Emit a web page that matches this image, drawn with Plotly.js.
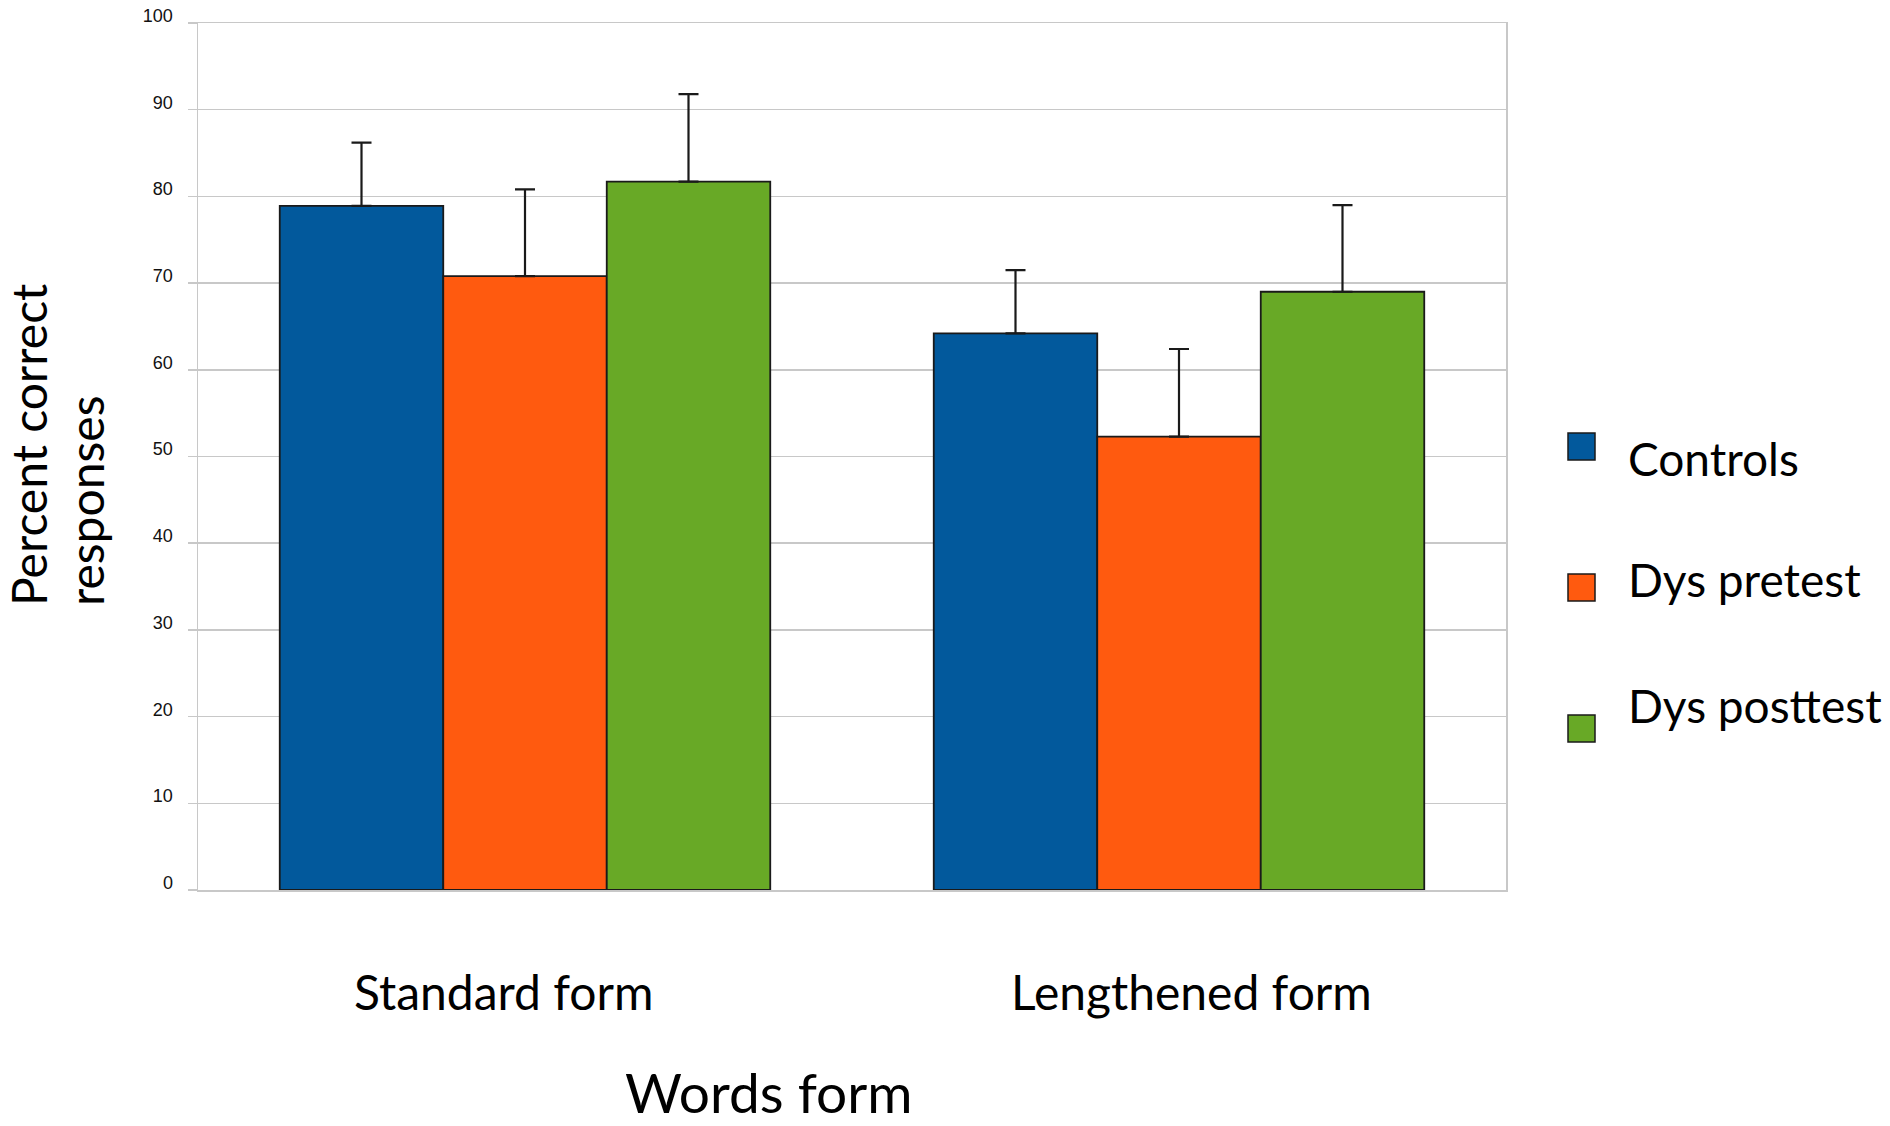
<!DOCTYPE html>
<html>
<head>
<meta charset="utf-8">
<script src="https://cdn.plot.ly/plotly-3.0.1.min.js"></script>
<style>
  html, body { margin: 0; padding: 0; background: #ffffff; }
  #chart { width: 1890px; height: 1126px; }
</style>
</head>
<body>
<div id="chart"></div>
<script>
// ---- data ----
const categories = ["Standard form", "Lengthened form"];
const seriesNames = ["Controls", "Dys pretest", "Dys posttest"];
const controls = [78.9, 64.2];
const dysPretest = [70.8, 52.3];
const dysPosttest = [81.7, 69.0];
const controlsErr = [7.3, 7.3];
const dysPretestErr = [10.0, 10.1];
const dysPosttestErr = [10.1, 10.0];
const yTickVals = [0, 10, 20, 30, 40, 50, 60, 70, 80, 90, 100];
const yTitleLines = ["Percent correct", "responses"];
const xTitle = "Words form";

// ---- styling ----
const colors = ["#02599C", "#FF5A0F", "#68A926"];
const W = 1890, H = 1126;
const plotL = 198, plotR = 1506, plotT = 23, plotB = 890;
const pw = plotR - plotL, ph = plotB - plotT;
const px2x = p => (p - plotL) / pw;
const px2y = p => (plotB - p) / ph;
const textFont = "Lato, 'Open Sans', sans-serif";

const values = [controls, dysPretest, dysPosttest];
const errs = [controlsErr, dysPretestErr, dysPosttestErr];

const traces = seriesNames.map((name, i) => ({
  type: "bar",
  name: name,
  x: categories,
  y: values[i],
  marker: { color: colors[i], line: { color: "#1a1a1a", width: 1.8 } },
  error_y: {
    type: "data",
    symmetric: false,
    array: errs[i],
    arrayminus: errs[i].map(() => 0),
    color: "#1a1a1a",
    thickness: 2.2,
    width: 10
  },
  showlegend: false,
  hoverinfo: "x+y+name"
}));

// manual legend (large squares)
const legendSquaresY = [433, 574, 715];
const legendTextY = [458, 580, 705];
const shapes = seriesNames.map((n, i) => ({
  type: "rect", xref: "paper", yref: "paper",
  x0: px2x(1568), x1: px2x(1595),
  y0: px2y(legendSquaresY[i] + 27), y1: px2y(legendSquaresY[i]),
  fillcolor: colors[i], line: { color: "#1a1a1a", width: 1.5 }
}));

const annotations = seriesNames.map((n, i) => ({
  text: n, xref: "paper", yref: "paper",
  x: px2x(1626), y: px2y(legendTextY[i]),
  xanchor: "left", yanchor: "middle", showarrow: false,
  font: { family: textFont, size: 46, color: "#000000" }
}));

// category labels (slightly off-centre as in the original)
const catShift = [-22, 12];
categories.forEach((c, i) => {
  annotations.push({
    text: c, xref: "x", yref: "paper",
    x: c, y: px2y(991), xshift: catShift[i],
    xanchor: "center", yanchor: "middle", showarrow: false,
    font: { family: textFont, size: 48, color: "#000000" }
  });
});

// y-axis title, two rotated lines, start-aligned at the bottom
const yTitleX = [28, 85];
const yTitleBottom = [608, 608];
yTitleLines.forEach((line, i) => {
  annotations.push({
    text: line, xref: "paper", yref: "paper",
    x: px2x(yTitleX[i]), y: px2y(yTitleBottom[i]),
    xanchor: "center", yanchor: "bottom",
    textangle: -90, showarrow: false,
    font: { family: textFont, size: 48, color: "#000000" }
  });
});

annotations.push({
  text: xTitle, xref: "paper", yref: "paper",
  x: px2x(768), y: px2y(1092), xanchor: "center", yanchor: "middle",
  showarrow: false,
  font: { family: textFont, size: 55, color: "#000000" }
});

const layout = {
  width: W, height: H,
  margin: { l: plotL, r: W - plotR, t: plotT, b: H - plotB, pad: 0 },
  paper_bgcolor: "#ffffff",
  plot_bgcolor: "#ffffff",
  barmode: "group",
  bargap: 0.25,
  bargroupgap: 0,
  showlegend: false,
  xaxis: {
    type: "category",
    showline: true, linecolor: "#c8c8c8", linewidth: 1.5, mirror: true,
    ticks: "", showgrid: false, zeroline: false,
    showticklabels: false
  },
  yaxis: {
    range: [0, 100],
    tickvals: yTickVals,
    showline: true, linecolor: "#c8c8c8", linewidth: 1.5, mirror: true,
    showgrid: true, gridcolor: "#c8c8c8", gridwidth: 1.5,
    zeroline: false,
    ticks: "outside", ticklen: 9, tickcolor: "#c8c8c8", tickwidth: 1.5,
    ticklabelposition: "outside top",
    ticklabeloverflow: "allow",
    ticklabelstandoff: 20,
    ticklabelshift: 6,
    tickfont: { family: "'Liberation Sans', Arial, sans-serif", size: 18, color: "#111111" }
  },
  shapes: shapes,
  annotations: annotations
};

Plotly.newPlot("chart", traces, layout, { displayModeBar: false, staticPlot: true });
</script>
</body>
</html>
